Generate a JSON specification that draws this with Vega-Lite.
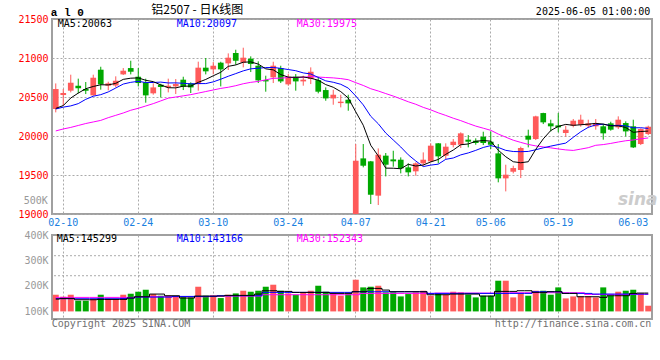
{
"$schema": "https://vega.github.io/schema/vega-lite/v6.json",
"padding": {"left": 16, "top": 3, "right": 4, "bottom": 4},
"background": "white",
"spacing": 21,
"bounds": "flush",
"config": {
  "view": {"stroke": "#a0a0a0", "strokeWidth": 2},
  "axis": {"labelFont": "DejaVu Sans Mono", "labelFontSize": 10, "ticks": false, "domain": false, "gridColor": "#aaaaaa", "gridDash": [2, 2], "title": null, "labelOverlap": false, "labelSeparation": 0, "labelBound": false},
  "text": {"font": "DejaVu Sans Mono", "fontSize": 10}
},
"data": {"values": [
{"d":"02-07","o":20346,"h":20674,"l":20303,"c":20602,"dir":"up","m5":20354,"m10":20346,"m30":20065,"v":165500,"vm5":148500,"vm10":149800,"vm30":155000},
{"d":"02-10","o":20525,"h":20602,"l":20389,"c":20551,"dir":"up","m5":20390,"m10":20370,"m30":20090,"v":157600,"vm5":151100,"vm10":149800,"vm30":155000},
{"d":"02-11","o":20581,"h":20786,"l":20559,"c":20683,"dir":"up","m5":20487,"m10":20386,"m30":20110,"v":165500,"vm5":151100,"vm10":149800,"vm30":155000},
{"d":"02-12","o":20645,"h":20735,"l":20547,"c":20611,"dir":"down","m5":20550,"m10":20415,"m30":20135,"v":141900,"vm5":145800,"vm10":149800,"vm30":155000},
{"d":"02-13","o":20602,"h":20692,"l":20538,"c":20581,"dir":"down","m5":20606,"m10":20470,"m30":20160,"v":141900,"vm5":145800,"vm10":149800,"vm30":155000},
{"d":"02-14","o":20521,"h":20786,"l":20517,"c":20747,"dir":"up","m5":20635,"m10":20510,"m30":20180,"v":148500,"vm5":145800,"vm10":149800,"vm30":155000},
{"d":"02-17","o":20850,"h":20888,"l":20594,"c":20662,"dir":"down","m5":20657,"m10":20530,"m30":20200,"v":165500,"vm5":147100,"vm10":149800,"vm30":155000},
{"d":"02-18","o":20645,"h":20696,"l":20585,"c":20675,"dir":"up","m5":20655,"m10":20565,"m30":20235,"v":148500,"vm5":147100,"vm10":149800,"vm30":155000},
{"d":"02-19","o":20649,"h":20765,"l":20623,"c":20709,"dir":"up","m5":20675,"m10":20615,"m30":20265,"v":148500,"vm5":147100,"vm10":149800,"vm30":155000},
{"d":"02-20","o":20790,"h":20871,"l":20782,"c":20837,"dir":"up","m5":20726,"m10":20666,"m30":20295,"v":165500,"vm5":147100,"vm10":151000,"vm30":155000},
{"d":"02-21","o":20871,"h":20965,"l":20790,"c":20824,"dir":"down","m5":20741,"m10":20688,"m30":20330,"v":169400,"vm5":152400,"vm10":152400,"vm30":155000},
{"d":"02-24","o":20760,"h":20871,"l":20636,"c":20679,"dir":"down","m5":20745,"m10":20701,"m30":20355,"v":177300,"vm5":157600,"vm10":156300,"vm30":157600},
{"d":"02-25","o":20688,"h":20735,"l":20427,"c":20521,"dir":"down","m5":20714,"m10":20685,"m30":20385,"v":185100,"vm5":157600,"vm10":156300,"vm30":157600},
{"d":"02-26","o":20547,"h":20675,"l":20530,"c":20623,"dir":"up","m5":20697,"m10":20686,"m30":20415,"v":168100,"vm5":168100,"vm10":156300,"vm30":157600},
{"d":"02-27","o":20658,"h":20670,"l":20495,"c":20628,"dir":"down","m5":20655,"m10":20691,"m30":20450,"v":161600,"vm5":168100,"vm10":156300,"vm30":157600},
{"d":"02-28","o":20623,"h":20735,"l":20559,"c":20645,"dir":"up","m5":20619,"m10":20680,"m30":20485,"v":161600,"vm5":161600,"vm10":156300,"vm30":157600},
{"d":"03-03","o":20636,"h":20730,"l":20538,"c":20666,"dir":"up","m5":20617,"m10":20681,"m30":20500,"v":157600,"vm5":161600,"vm10":158900,"vm30":157600},
{"d":"03-04","o":20722,"h":20760,"l":20589,"c":20632,"dir":"down","m5":20639,"m10":20676,"m30":20515,"v":157600,"vm5":152400,"vm10":158900,"vm30":157600},
{"d":"03-05","o":20675,"h":20688,"l":20551,"c":20623,"dir":"down","m5":20639,"m10":20668,"m30":20530,"v":155000,"vm5":152400,"vm10":158900,"vm30":157600},
{"d":"03-06","o":20666,"h":20953,"l":20581,"c":20876,"dir":"up","m5":20688,"m10":20672,"m30":20550,"v":196900,"vm5":160200,"vm10":158900,"vm30":157600},
{"d":"03-07","o":20876,"h":21000,"l":20790,"c":20829,"dir":"down","m5":20725,"m10":20672,"m30":20570,"v":161600,"vm5":160200,"vm10":158900,"vm30":157600},
{"d":"03-10","o":20854,"h":20948,"l":20790,"c":20901,"dir":"up","m5":20772,"m10":20694,"m30":20590,"v":161600,"vm5":160200,"vm10":158900,"vm30":160200},
{"d":"03-11","o":20940,"h":20952,"l":20636,"c":20854,"dir":"down","m5":20817,"m10":20728,"m30":20610,"v":152400,"vm5":160200,"vm10":161600,"vm30":160200},
{"d":"03-12","o":20931,"h":21059,"l":20846,"c":21004,"dir":"up","m5":20893,"m10":20766,"m30":20625,"v":165500,"vm5":162900,"vm10":161600,"vm30":160200},
{"d":"03-13","o":21064,"h":21106,"l":20914,"c":20965,"dir":"down","m5":20911,"m10":20800,"m30":20645,"v":170700,"vm5":162900,"vm10":161600,"vm30":160200},
{"d":"03-14","o":20940,"h":21132,"l":20880,"c":21004,"dir":"up","m5":20946,"m10":20835,"m30":20670,"v":181200,"vm5":162900,"vm10":161600,"vm30":160200},
{"d":"03-17","o":20991,"h":21021,"l":20820,"c":20923,"dir":"down","m5":20950,"m10":20861,"m30":20688,"v":177300,"vm5":162900,"vm10":161600,"vm30":160200},
{"d":"03-18","o":20901,"h":20957,"l":20679,"c":20713,"dir":"down","m5":20922,"m10":20869,"m30":20700,"v":181200,"vm5":168100,"vm10":161600,"vm30":160200},
{"d":"03-19","o":20717,"h":20773,"l":20568,"c":20700,"dir":"down","m5":20861,"m10":20877,"m30":20720,"v":196900,"vm5":181200,"vm10":174700,"vm30":165500},
{"d":"03-20","o":20752,"h":20952,"l":20679,"c":20901,"dir":"up","m5":20848,"m10":20879,"m30":20739,"v":204800,"vm5":181200,"vm10":174700,"vm30":165500},
{"d":"03-21","o":20871,"h":20901,"l":20679,"c":20700,"dir":"down","m5":20787,"m10":20867,"m30":20742,"v":181200,"vm5":178600,"vm10":174700,"vm30":165500},
{"d":"03-24","o":20662,"h":20794,"l":20645,"c":20760,"dir":"up","m5":20755,"m10":20852,"m30":20749,"v":170700,"vm5":178600,"vm10":174700,"vm30":165500},
{"d":"03-25","o":20760,"h":20794,"l":20581,"c":20700,"dir":"down","m5":20752,"m10":20837,"m30":20750,"v":165500,"vm5":174700,"vm10":174700,"vm30":165500},
{"d":"03-26","o":20700,"h":20773,"l":20645,"c":20722,"dir":"up","m5":20757,"m10":20809,"m30":20753,"v":174700,"vm5":174700,"vm10":174700,"vm30":165500},
{"d":"03-27","o":20730,"h":20880,"l":20666,"c":20824,"dir":"up","m5":20741,"m10":20795,"m30":20762,"v":181200,"vm5":174700,"vm10":174700,"vm30":165500},
{"d":"03-28","o":20717,"h":20760,"l":20547,"c":20568,"dir":"down","m5":20715,"m10":20751,"m30":20756,"v":200800,"vm5":174700,"vm10":174700,"vm30":165500},
{"d":"03-31","o":20589,"h":20623,"l":20452,"c":20482,"dir":"down","m5":20659,"m10":20707,"m30":20750,"v":177300,"vm5":174700,"vm10":174700,"vm30":165500},
{"d":"04-01","o":20482,"h":20593,"l":20401,"c":20529,"dir":"up","m5":20625,"m10":20689,"m30":20745,"v":170700,"vm5":170700,"vm10":174700,"vm30":165500},
{"d":"04-02","o":20422,"h":20529,"l":20367,"c":20440,"dir":"up","m5":20569,"m10":20663,"m30":20736,"v":161600,"vm5":170700,"vm10":174700,"vm30":165500},
{"d":"04-03","o":20465,"h":20529,"l":20324,"c":20418,"dir":"down","m5":20487,"m10":20614,"m30":20722,"v":168100,"vm5":170700,"vm10":174700,"vm30":165500},
{"d":"04-07","o":19000,"h":19897,"l":19000,"c":19683,"dir":"up","m5":20310,"m10":20513,"m30":20684,"v":224400,"vm5":177300,"vm10":177300,"vm30":165500},
{"d":"04-08","o":19713,"h":19897,"l":19598,"c":19619,"dir":"down","m5":20138,"m10":20399,"m30":20648,"v":194300,"vm5":177300,"vm10":177300,"vm30":170700},
{"d":"04-09","o":19675,"h":19680,"l":19128,"c":19247,"dir":"down","m5":19881,"m10":20253,"m30":20606,"v":196900,"vm5":190400,"vm10":177300,"vm30":170700},
{"d":"04-10","o":19235,"h":19841,"l":19115,"c":19760,"dir":"up","m5":19745,"m10":20157,"m30":20577,"v":200800,"vm5":190400,"vm10":177300,"vm30":170700},
{"d":"04-11","o":19748,"h":19782,"l":19482,"c":19632,"dir":"down","m5":19588,"m10":20038,"m30":20544,"v":174700,"vm5":183800,"vm10":177300,"vm30":170700},
{"d":"04-14","o":19700,"h":19811,"l":19606,"c":19675,"dir":"down","m5":19587,"m10":19949,"m30":20512,"v":174700,"vm5":177300,"vm10":177300,"vm30":170700},
{"d":"04-15","o":19696,"h":19726,"l":19521,"c":19585,"dir":"down","m5":19580,"m10":19859,"m30":20476,"v":158900,"vm5":177300,"vm10":177300,"vm30":170700},
{"d":"04-16","o":19598,"h":19649,"l":19482,"c":19534,"dir":"down","m5":19637,"m10":19759,"m30":20439,"v":168100,"vm5":177300,"vm10":177300,"vm30":170700},
{"d":"04-17","o":19547,"h":19662,"l":19491,"c":19649,"dir":"up","m5":19615,"m10":19680,"m30":20407,"v":174700,"vm5":177300,"vm10":177300,"vm30":170700},
{"d":"04-18","o":19649,"h":19790,"l":19619,"c":19696,"dir":"up","m5":19628,"m10":19608,"m30":20367,"v":181200,"vm5":177300,"vm10":177300,"vm30":170700},
{"d":"04-21","o":19675,"h":19906,"l":19662,"c":19876,"dir":"up","m5":19668,"m10":19627,"m30":20335,"v":161600,"vm5":165500,"vm10":170700,"vm30":170700},
{"d":"04-22","o":19906,"h":19910,"l":19649,"c":19739,"dir":"down","m5":19699,"m10":19639,"m30":20297,"v":170700,"vm5":165500,"vm10":170700,"vm30":172000},
{"d":"04-23","o":19747,"h":19906,"l":19705,"c":19863,"dir":"up","m5":19765,"m10":19701,"m30":20264,"v":165500,"vm5":165500,"vm10":170700,"vm30":172000},
{"d":"04-24","o":19884,"h":19961,"l":19854,"c":19927,"dir":"up","m5":19820,"m10":19718,"m30":20228,"v":177300,"vm5":168100,"vm10":170700,"vm30":172000},
{"d":"04-25","o":19888,"h":20047,"l":19846,"c":20034,"dir":"up","m5":19888,"m10":19758,"m30":20197,"v":174700,"vm5":168100,"vm10":170700,"vm30":172000},
{"d":"04-28","o":19953,"h":20012,"l":19854,"c":19927,"dir":"down","m5":19898,"m10":19783,"m30":20161,"v":165500,"vm5":168100,"vm10":170700,"vm30":172000},
{"d":"04-29","o":19940,"h":19970,"l":19888,"c":19910,"dir":"down","m5":19932,"m10":19816,"m30":20127,"v":155000,"vm5":168100,"vm10":170700,"vm30":172000},
{"d":"04-30","o":19991,"h":20055,"l":19884,"c":19910,"dir":"down","m5":19942,"m10":19853,"m30":20100,"v":161600,"vm5":160200,"vm10":170700,"vm30":172000},
{"d":"05-06","o":19927,"h":20059,"l":19833,"c":19888,"dir":"down","m5":19934,"m10":19877,"m30":20073,"v":161600,"vm5":160200,"vm10":170700,"vm30":172000},
{"d":"05-07","o":19777,"h":19897,"l":19406,"c":19457,"dir":"down","m5":19818,"m10":19853,"m30":20025,"v":220500,"vm5":178600,"vm10":170700,"vm30":172000},
{"d":"05-08","o":19457,"h":19632,"l":19290,"c":19504,"dir":"up","m5":19734,"m10":19816,"m30":19985,"v":220500,"vm5":178600,"vm10":170700,"vm30":172000},
{"d":"05-09","o":19542,"h":19619,"l":19521,"c":19589,"dir":"up","m5":19670,"m10":19801,"m30":19946,"v":155000,"vm5":178600,"vm10":170700,"vm30":173300},
{"d":"05-12","o":19564,"h":19863,"l":19461,"c":19846,"dir":"up","m5":19657,"m10":19799,"m30":19918,"v":170700,"vm5":181200,"vm10":170700,"vm30":173300},
{"d":"05-13","o":20004,"h":20081,"l":19854,"c":19953,"dir":"down","m5":19670,"m10":19802,"m30":19892,"v":161600,"vm5":181200,"vm10":170700,"vm30":173300},
{"d":"05-14","o":19961,"h":20260,"l":19948,"c":20252,"dir":"up","m5":19829,"m10":19824,"m30":19873,"v":181200,"vm5":174700,"vm10":177300,"vm30":173300},
{"d":"05-15","o":20294,"h":20298,"l":20153,"c":20175,"dir":"down","m5":19963,"m10":19848,"m30":19860,"v":181200,"vm5":174700,"vm10":177300,"vm30":173300},
{"d":"05-16","o":20162,"h":20209,"l":20059,"c":20124,"dir":"down","m5":20070,"m10":19870,"m30":19848,"v":165500,"vm5":177300,"vm10":177300,"vm30":173300},
{"d":"05-19","o":20136,"h":20294,"l":20047,"c":20111,"dir":"down","m5":20123,"m10":19890,"m30":19834,"v":194300,"vm5":177300,"vm10":177300,"vm30":173300},
{"d":"05-20","o":20038,"h":20132,"l":19991,"c":20081,"dir":"up","m5":20149,"m10":19909,"m30":19822,"v":151100,"vm5":170700,"vm10":170700,"vm30":173300},
{"d":"05-21","o":20132,"h":20218,"l":20111,"c":20196,"dir":"up","m5":20137,"m10":19983,"m30":19815,"v":158900,"vm5":170700,"vm10":170700,"vm30":173300},
{"d":"05-22","o":20145,"h":20273,"l":20119,"c":20209,"dir":"up","m5":20144,"m10":20054,"m30":19832,"v":158900,"vm5":157600,"vm10":170700,"vm30":173300},
{"d":"05-23","o":20132,"h":20209,"l":20102,"c":20162,"dir":"up","m5":20152,"m10":20111,"m30":19850,"v":158900,"vm5":157600,"vm10":170700,"vm30":166800},
{"d":"05-26","o":20124,"h":20218,"l":20081,"c":20162,"dir":"up","m5":20162,"m10":20143,"m30":19881,"v":155000,"vm5":157600,"vm10":168100,"vm30":166800},
{"d":"05-27","o":20124,"h":20153,"l":19953,"c":20034,"dir":"down","m5":20153,"m10":20151,"m30":19890,"v":194300,"vm5":155000,"vm10":168100,"vm30":166800},
{"d":"05-28","o":20162,"h":20183,"l":20068,"c":20081,"dir":"down","m5":20130,"m10":20134,"m30":19905,"v":161600,"vm5":161600,"vm10":168100,"vm30":166800},
{"d":"05-29","o":20111,"h":20252,"l":20089,"c":20209,"dir":"up","m5":20130,"m10":20137,"m30":19923,"v":177300,"vm5":161600,"vm10":168100,"vm30":166800},
{"d":"05-30","o":20166,"h":20188,"l":19995,"c":20059,"dir":"down","m5":20109,"m10":20130,"m30":19939,"v":181200,"vm5":161600,"vm10":168100,"vm30":166800},
{"d":"06-03","o":20124,"h":20209,"l":19846,"c":19854,"dir":"down","m5":20047,"m10":20105,"m30":19949,"v":185100,"vm5":170700,"vm10":168100,"vm30":166800},
{"d":"06-04","o":19897,"h":20098,"l":19884,"c":20089,"dir":"up","m5":20058,"m10":20106,"m30":19964,"v":170700,"vm5":172000,"vm10":168100,"vm30":166800},
{"d":"06-05","o":20025,"h":20132,"l":20012,"c":20119,"dir":"up","m5":20063,"m10":20097,"m30":19975,"v":122300,"vm5":172000,"vm10":168100,"vm30":166800}
]},
"vconcat": [
{
  "width": 600, "height": 195,
  "layer": [
    {"mark": {"type": "rule", "strokeWidth": 1},
     "encoding": {
       "x": {"field": "d", "type": "ordinal", "sort": "ascending", "scale": {"type": "band", "paddingInner": 0, "paddingOuter": 0},
             "axis": {"values": ["02-10","02-24","03-10","03-24","04-07","04-21","05-06","05-19","06-03"], "labelColor": "#1a7fe0", "labelAngle": 0, "labelPadding": 3, "labelOverlap": false, "labelFlush": false, "grid": true,
                      "gridOpacity": {"condition": {"test": "datum.value === '06-03'", "value": 0}, "value": 1}}},
       "y": {"field": "l", "type": "quantitative", "scale": {"domain": [19000, 21500], "nice": false, "zero": false},
             "axis": {"values": [19000, 19500, 20000, 20500, 21000, 21500], "tickCount": 6, "labelExpr": "'' + datum.value", "labelColor": "#ff0000", "labelPadding": 4, "labelOverlap": false, "labelSeparation": 0, "labelFlush": false, "grid": true}},
       "y2": {"field": "h"},
       "color": {"field": "dir", "type": "nominal", "scale": {"domain": ["up", "down"], "range": ["#ff5a5a", "#00a800"]}, "legend": null}
     }},
    {"mark": {"type": "bar", "width": {"band": 0.76}},
     "encoding": {
       "x": {"field": "d", "type": "ordinal", "sort": "ascending"},
       "y": {"field": "o", "type": "quantitative"},
       "y2": {"field": "c"},
       "color": {"field": "dir", "type": "nominal", "legend": null}
     }},
    {"mark": {"type": "line", "color": "#ff00ff", "strokeWidth": 1},
     "encoding": {"x": {"field": "d", "type": "ordinal", "sort": "ascending"}, "y": {"field": "m30", "type": "quantitative"}}},
    {"mark": {"type": "line", "color": "#0000ff", "strokeWidth": 1},
     "encoding": {"x": {"field": "d", "type": "ordinal", "sort": "ascending"}, "y": {"field": "m10", "type": "quantitative"}}},
    {"mark": {"type": "line", "color": "#000000", "strokeWidth": 1},
     "encoding": {"x": {"field": "d", "type": "ordinal", "sort": "ascending"}, "y": {"field": "m5", "type": "quantitative"}}},
    {"data": {"values": [{}]},
     "mark": {"type": "text", "align": "left", "baseline": "middle", "dx": 2, "color": "#000000", "text": "MA5:20063"},
     "encoding": {"x": {"datum": "02-07", "type": "ordinal"}, "y": {"datum": 21436, "type": "quantitative"}}},
    {"data": {"values": [{}]},
     "mark": {"type": "text", "align": "left", "baseline": "middle", "dx": 1, "color": "#0000ff", "text": "MA10:20097"},
     "encoding": {"x": {"datum": "03-03", "type": "ordinal"}, "y": {"datum": 21436, "type": "quantitative"}}},
    {"data": {"values": [{}]},
     "mark": {"type": "text", "align": "left", "baseline": "middle", "dx": 1, "color": "#ff00ff", "text": "MA30:19975"},
     "encoding": {"x": {"datum": "03-25", "type": "ordinal"}, "y": {"datum": 21436, "type": "quantitative"}}},
    {"data": {"values": [{}]},
     "mark": {"type": "text", "align": "left", "baseline": "middle", "dx": -5, "color": "#000000", "text": "a l 0", "font": "Liberation Mono", "fontWeight": "bold", "fontSize": 11},
     "encoding": {"x": {"datum": "02-07", "type": "ordinal"}, "y": {"datum": 21581, "type": "quantitative"}}},
    {"data": {"values": [{}]},
     "mark": {"type": "text", "align": "center", "baseline": "middle", "dx": -1, "color": "#000000", "text": "铝2507 - 日K线图", "font": "Noto Sans CJK SC", "fontSize": 12},
     "encoding": {"x": {"datum": "03-06", "type": "ordinal"}, "y": {"datum": 21613, "type": "quantitative"}}},
    {"data": {"values": [{}]},
     "mark": {"type": "text", "align": "right", "baseline": "middle", "dx": 2, "color": "#000000", "text": "2025-06-05 01:00:00"},
     "encoding": {"x": {"datum": "06-05", "type": "ordinal"}, "y": {"datum": 21585, "type": "quantitative"}}},
    {"data": {"values": [{}]},
     "mark": {"type": "text", "align": "right", "baseline": "middle", "dx": -8, "color": "#999999", "text": "500K"},
     "encoding": {"x": {"datum": "02-07", "type": "ordinal"}, "y": {"datum": 19170, "type": "quantitative"}}},
    {"data": {"values": [{}]},
     "mark": {"type": "text", "align": "center", "baseline": "middle", "dx": -3, "color": "#cccccc", "text": "sina", "font": "DejaVu Sans", "fontStyle": "italic", "fontWeight": "bold", "fontSize": 17},
     "encoding": {"x": {"datum": "06-04", "type": "ordinal"}, "y": {"datum": 19183, "type": "quantitative"}}}
  ]
},
{
  "width": 600, "height": 84,
  "layer": [
    {"mark": {"type": "bar", "width": {"band": 0.8}},
     "encoding": {
       "x": {"field": "d", "type": "ordinal", "sort": "ascending", "scale": {"type": "band", "paddingInner": 0, "paddingOuter": 0},
             "axis": {"values": ["02-10","02-24","03-10","03-24","04-07","04-21","05-06","05-19","06-03"], "labels": false, "grid": true,
                      "gridOpacity": {"condition": {"test": "datum.value === '06-03'", "value": 0}, "value": 1}}},
       "y": {"field": "v", "type": "quantitative", "scale": {"domain": [70200, 400000], "nice": false, "zero": false},
             "axis": {"values": [100000, 200000, 300000, 400000], "tickCount": 4, "labelExpr": "datum.value / 1000 + 'K'", "labelColor": "#999999", "labelPadding": 4, "labelOverlap": false, "labelSeparation": 0, "labelFlush": false, "grid": false}},
       "y2": {"datum": 100000},
       "color": {"field": "dir", "type": "nominal", "scale": {"domain": ["up", "down"], "range": ["#ff5a5a", "#00a800"]}, "legend": null}
     }},
    {"data": {"values": [{}]},
     "mark": {"type": "rule", "color": "#aaaaaa", "strokeDash": [2, 2], "strokeWidth": 1},
     "encoding": {"y": {"datum": 318700, "type": "quantitative"}}},
    {"data": {"values": [{}]},
     "mark": {"type": "rule", "color": "#aaaaaa", "strokeDash": [2, 2], "strokeWidth": 1},
     "encoding": {"y": {"datum": 240100, "type": "quantitative"}}},
    {"mark": {"type": "line", "color": "#ff00ff", "strokeWidth": 1, "interpolate": "step"},
     "encoding": {"x": {"field": "d", "type": "ordinal", "sort": "ascending"}, "y": {"field": "vm30", "type": "quantitative"}}},
    {"mark": {"type": "line", "color": "#0000ff", "strokeWidth": 1, "interpolate": "step"},
     "encoding": {"x": {"field": "d", "type": "ordinal", "sort": "ascending"}, "y": {"field": "vm10", "type": "quantitative"}}},
    {"mark": {"type": "line", "color": "#000000", "strokeWidth": 1, "interpolate": "step"},
     "encoding": {"x": {"field": "d", "type": "ordinal", "sort": "ascending"}, "y": {"field": "vm5", "type": "quantitative"}}},
    {"data": {"values": [{}]},
     "mark": {"type": "text", "align": "left", "baseline": "middle", "dx": 1, "color": "#000000", "text": "MA5:145299"},
     "encoding": {"x": {"datum": "02-07", "type": "ordinal"}, "y": {"datum": 386200, "type": "quantitative"}}},
    {"data": {"values": [{}]},
     "mark": {"type": "text", "align": "left", "baseline": "middle", "dx": 1, "color": "#0000ff", "text": "MA10:143166"},
     "encoding": {"x": {"datum": "03-03", "type": "ordinal"}, "y": {"datum": 386200, "type": "quantitative"}}},
    {"data": {"values": [{}]},
     "mark": {"type": "text", "align": "left", "baseline": "middle", "dx": 1, "color": "#ff00ff", "text": "MA30:152343"},
     "encoding": {"x": {"datum": "03-25", "type": "ordinal"}, "y": {"datum": 386200, "type": "quantitative"}}},
    {"data": {"values": [{}]},
     "mark": {"type": "text", "align": "left", "baseline": "middle", "dx": -4, "color": "#707070", "text": "Copyright 2025 SINA.COM"},
     "encoding": {"x": {"datum": "02-07", "type": "ordinal"}, "y": {"datum": 49000, "type": "quantitative"}}},
    {"data": {"values": [{}]},
     "mark": {"type": "text", "align": "right", "baseline": "middle", "dx": 3, "color": "#707070", "text": "http://finance.sina.com.cn"},
     "encoding": {"x": {"datum": "06-05", "type": "ordinal"}, "y": {"datum": 49000, "type": "quantitative"}}}
  ]
}
]
}
